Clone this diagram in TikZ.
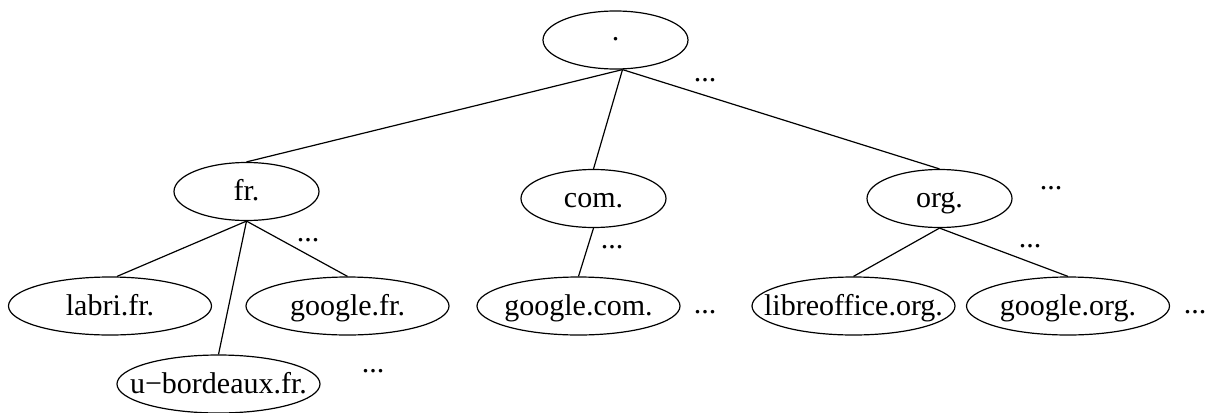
\documentclass[tikz,border=0pt]{standalone}
\usepackage{fontspec}
\setmainfont{Liberation Serif}[Ligatures=NoCommon]
\usetikzlibrary{shapes.geometric}
\newcommand\nm[1]{\makebox[0pt]{#1}}
\begin{document}
\begin{tikzpicture}[x=0.5pt,y=-0.5pt,
  dom/.style={ellipse,draw,line width=0.6pt,inner sep=0pt,minimum height=29pt,
    font=\fontsize{15}{18}\selectfont,text height=9pt,text depth=0pt},
  small/.style={dom,minimum width=72.5pt},
  big/.style={dom,minimum width=101.5pt},
  more/.style={inner sep=0pt,font=\fontsize{15}{18}\selectfont},
  edge/.style={line width=0.6pt}]
\useasboundingbox (0,0) rectangle (1214,412);
% nodes
\node[small,text height=0pt] (root) at (615.5,40) {\nm{.}};
\node[small] (fr) at (246.5,191.5) {\nm{fr.}};
\node[small] (com) at (593.5,198.5) {\nm{com.}};
\node[small] (org) at (939.5,198.5) {\nm{org.}};
\node[big] (labri) at (110,306) {\nm{labri.fr.}};
\node[big] (gfr) at (347.5,306) {\nm{google.fr.}};
\node[big] (ubx) at (218.5,384) {\nm{u−bordeaux.fr.}};
\node[big] (gcom) at (578.5,306) {\nm{google.com.}};
\node[big] (libre) at (853.5,306) {\nm{libreoffice.org.}};
\node[big] (gorg) at (1068,306) {\nm{google.org.}};
% ellipsis labels
\node[more] (m1) at (705,80) {...};
\node[more] (m2) at (308,240) {...};
\node[more] (m3) at (373,371) {...};
\node[more] (m4) at (612,247) {...};
\node[more] (m5) at (705,312) {...};
\node[more] (m6) at (1051,188) {...};
\node[more] (m7) at (1030,246) {...};
\node[more] (m8) at (1195,312) {...};
% edges
\draw[edge] ([xshift=3.5pt]root.south) -- (fr.north);
\draw[edge] ([xshift=3.5pt]root.south) -- (com.north);
\draw[edge] ([xshift=3.5pt]root.south) -- (org.north);
\draw[edge] (fr.south) -- ([xshift=3.5pt]labri.north);
\draw[edge] (fr.south) -- (ubx.north);
\draw[edge] (fr.south) -- (gfr.north);
\draw[edge] (com.south) -- (gcom.north);
\draw[edge] (org.south) -- (libre.north);
\draw[edge] (org.south) -- (gorg.north);
\end{tikzpicture}
\end{document}
